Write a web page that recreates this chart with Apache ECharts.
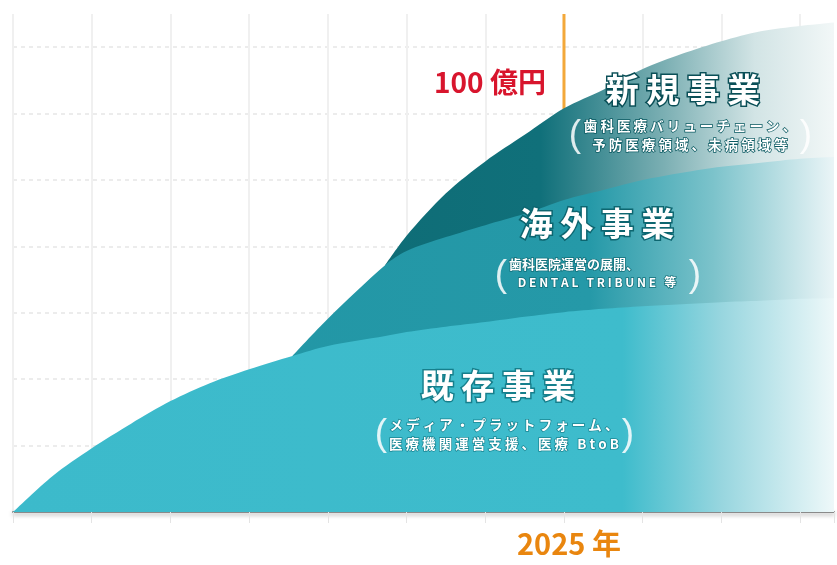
<!DOCTYPE html>
<html>
<head>
<meta charset="utf-8">
<script src="https://cdn.jsdelivr.net/npm/echarts@6/dist/echarts.min.js"></script>
<style>
html,body{margin:0;padding:0;background:#fff;}
#main{width:837px;height:565px;}
</style>
</head>
<body>
<div id="main"></div>
<script>
// ---- data (y in arbitrary units, x in years) ----
var years    = [2018, 2018.5, 2019, 2019.5, 2020, 2020.5, 2021, 2021.55, 2022, 2022.73, 2023, 2023.5, 2024, 2024.5, 2025, 2025.5, 2026, 2026.5, 2027, 2027.5, 2028, 2028.5];
var existing = [0, 5.4, 9.6, 13.3, 16.7, 19.4, 21.5, 23.5, 25.0, 26.5, 27.1, 27.9, 28.6, 29.4, 30.1, 30.6, 31.0, 31.3, 31.6, 31.8, 32.1, 32.2];
var overseas = [null, null, null, null, null, null, null, 0, 4.1, 10.7, 12.2, 13.5, 14.6, 15.5, 16.9, 17.9, 19.0, 19.8, 20.4, 20.8, 21.1, 21.3];
var newBiz   = [null, null, null, null, null, null, null, null, null, 0, 2.3, 6.6, 9.6, 11.9, 13.8, 15.1, 16.7, 17.9, 18.9, 19.8, 20.0, 20.3];
var markYear = 2025;
var markLabel = '100 億円';
var yearLabel = '2025 年';
var names = ['既存事業', '海外事業', '新規事業'];
var subs = [
  ['メディア・プラットフォーム、', '医療機関運営支援、医療 BtoB'],
  ['歯科医院運営の展開、', 'DENTAL TRIBUNE 等'],
  ['歯科医療バリューチェーン、', '予防医療領域、未病領域等']
];

// cumulative (stacked) tops, each layer drawn as an area down to the axis,
// upper layers behind lower ones
function cumulative(layers){
  var out = [];
  years.forEach(function(y, i){
    if (layers[layers.length - 1][i] == null) return;
    var s = 0;
    layers.forEach(function(l){ s += (l[i] || 0); });
    out.push([y, +s.toFixed(2)]);
  });
  return out;
}
function spaced(s){ return s.split('').join(' '); }

var chart = echarts.init(document.getElementById('main'), null, {renderer:'canvas'});

function grad(stops){
  return {type:'linear', x:13, y:0, x2:837, y2:0, global:true, colorStops:stops};
}

var CJK = '"Noto Sans CJK JP", "Noto Sans", sans-serif';

function title(txt, x, y, border){
  return {type:'text', x:x, y:y, z:100, style:{text:txt, fill:'#ffffff', stroke:border, lineWidth:3,
    font:'bold 33px ' + CJK, align:'center', verticalAlign:'middle'}};
}
function sub(txt, x, y, border, size){
  return {type:'text', x:x, y:y, z:100, style:{text:txt, fill:'#ffffff', stroke:border, lineWidth:1.5,
    font:'bold ' + (size||13.5) + 'px ' + CJK, align:'center', verticalAlign:'middle'}};
}
function paren(txt, x, y){
  return {type:'text', x:x, y:y, z:100, style:{text:txt, fill:'rgba(255,255,255,0.85)',
    font:'300 37px "Liberation Sans", sans-serif', align:'center', verticalAlign:'middle'}};
}

var option = {
  backgroundColor:'#ffffff',
  animation:false,
  grid:{left:13, right:0, top:14, bottom:53, containLabel:false},
  xAxis:{
    type:'value', min:2018, max:2018 + 824/79, interval:1,
    axisLine:{show:true, lineStyle:{color:'#8a8a8a', width:2, shadowColor:'rgba(0,0,0,0.35)', shadowBlur:4, shadowOffsetY:2}},
    axisTick:{show:true, length:11, lineStyle:{color:'#e4e4e4', width:1}},
    axisLabel:{show:true, margin:17, padding:[0,0,0,10],
      formatter:function(v){ return Math.abs(v - markYear) < 1e-6 ? yearLabel : ''; },
      color:'#e9860f', fontSize:29, fontWeight:'bold', fontFamily:CJK},
    splitLine:{show:true, showMaxLine:false, lineStyle:{color:'#f0f0f0', width:2}}
  },
  yAxis:{
    type:'value', min:0, max:75, interval:10,
    axisLine:{show:false}, axisTick:{show:false}, axisLabel:{show:false},
    splitLine:{show:true, showMaxLine:false, showMinLine:false, lineStyle:{color:'#e6e6e6', width:1.5, type:[4,4]}}
  },
  series:[
    {
      type:'line', z:1, symbol:'none', silent:true,
      data:[[markYear, 0], [markYear, 75]],
      lineStyle:{color:'#f3a83a', width:3}
    },
    {
      name:names[2], type:'line', z:2, smooth:0.3, symbol:'none',
      data:cumulative([existing, overseas, newBiz]),
      lineStyle:{width:0},
      areaStyle:{opacity:1, color:grad([
        {offset:0, color:'#0b666f'}, {offset:0.64, color:'#10707a'},
        {offset:0.79, color:'#7bafb3'}, {offset:0.9, color:'#d2e4e5'}, {offset:1, color:'#f3f8f8'}])}
    },
    {
      name:names[1], type:'line', z:3, smooth:0.3, symbol:'none',
      data:cumulative([existing, overseas]),
      lineStyle:{width:0},
      areaStyle:{opacity:1, color:grad([
        {offset:0, color:'#2095a4'}, {offset:0.70, color:'#2599a8'},
        {offset:0.85, color:'#7cc3cb'}, {offset:1, color:'#edf6f8'}])}
    },
    {
      name:names[0], type:'line', z:4, smooth:0.3, symbol:'none',
      data:cumulative([existing]),
      lineStyle:{width:0},
      areaStyle:{opacity:1, color:grad([
        {offset:0, color:'#3cbacb'}, {offset:0.74, color:'#3ebccc'},
        {offset:0.86, color:'#98d6df'}, {offset:1, color:'#f0f9fa'}])}
    }
  ],
  graphic:[
    {type:'text', x:490, y:82, z:100, style:{text:markLabel, fill:'#d8152d',
      font:'bold 28px ' + CJK, align:'center', verticalAlign:'middle'}},
    title(spaced(names[2]), 683, 89, '#0a4f57'),
    sub(spaced(subs[2][0]), 690, 126, '#0b5a62'),
    sub(spaced(subs[2][1]), 690, 145, '#0b5a62'),
    paren('(', 575, 136), paren(')', 806, 136),
    title(spaced(names[1]), 597, 223, '#0d6670'),
    sub(subs[1][0], 574, 264, '#126f79', 13),
    sub(spaced(subs[1][1]), 597, 282, '#126f79', 12),
    paren('(', 501, 276), paren(')', 695, 276),
    title(spaced(names[0]), 498, 385, '#167f8c'),
    sub(spaced(subs[0][0]), 504, 425, '#1a8794'),
    sub(spaced(subs[0][1]), 504, 444, '#1a8794'),
    paren('(', 381, 435), paren(')', 628, 435)
  ]
};
chart.setOption(option);
</script>
</body>
</html>
